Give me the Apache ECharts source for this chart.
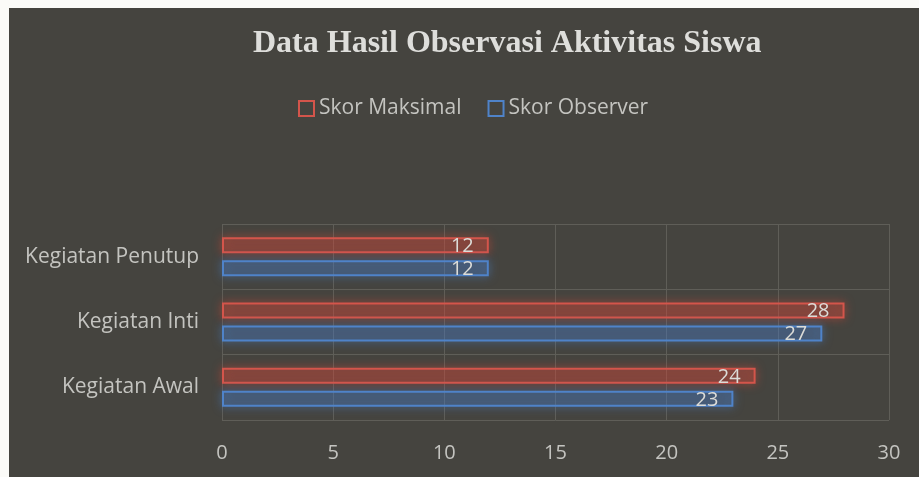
<!DOCTYPE html>
<html>
<head>
<meta charset="utf-8">
<script src="https://cdn.jsdelivr.net/npm/echarts@6/dist/echarts.min.js"></script>
<style>
  html, body { margin: 0; padding: 0; background: #fbfbf8; }
  #box { position: absolute; left: 9px; top: 8px; width: 910px; height: 469px; background: #45443f; }
  #chart { width: 910px; height: 469px; }
</style>
</head>
<body>
<div id="box"><div id="chart"></div></div>
<script>
// data
let categories = ["Kegiatan Awal", "Kegiatan Inti", "Kegiatan Penutup"];
let skorMaksimal = [24, 28, 12];
let skorObserver = [23, 27, 12];
let xTicks = [0, 5, 10, 15, 20, 25, 30];

let barChart = echarts.init(document.getElementById("chart"));
let txtColor = "#c4c4c0";
let gridColor = "#5f5e58";

let barChartOption = {
  animation: false,
  title: {
    text: "Data Hasil Observasi Aktivitas Siswa",
    left: 239,
    top: 15,
    textStyle: {
      fontFamily: "Liberation Serif",
      fontWeight: "bold",
      fontSize: 32,
      color: "#dededb"
    }
  },
  legend: {
    left: 284,
    top: 85,
    itemWidth: 15,
    itemHeight: 15,
    itemGap: 26,
    icon: "rect",
    textStyle: {
      color: txtColor,
      fontFamily: "Open Sans",
      fontSize: 21
    },
    data: [{
        name: "Skor Maksimal",
        itemStyle: { color: "transparent", borderColor: "#d4554b", borderWidth: 2, shadowBlur: 0 }
      },
      {
        name: "Skor Observer",
        itemStyle: { color: "transparent", borderColor: "#4f83c9", borderWidth: 2, shadowBlur: 0 }
      }
    ]
  },
  grid: {
    left: 213,
    right: 30,
    top: 216,
    bottom: 57
  },
  xAxis: {
    type: "value",
    min: 0,
    max: 30,
    interval: 5,
    axisLine: { show: false },
    axisTick: { show: false },
    splitLine: { lineStyle: { color: gridColor, width: 1 } },
    axisLabel: {
      margin: 23,
      color: txtColor,
      fontFamily: "Open Sans",
      fontSize: 20,
      formatter: function (v) {
        return xTicks.indexOf(v) > -1 ? String(v) : "";
      }
    }
  },
  yAxis: {
    type: "category",
    data: categories,
    axisLine: { show: false },
    axisTick: { show: false },
    splitLine: { show: true, lineStyle: { color: gridColor, width: 1 } },
    axisLabel: {
      margin: 23,
      color: txtColor,
      fontFamily: "Open Sans",
      fontSize: 21
    }
  },
  series: [{
      name: "Skor Maksimal",
      type: "bar",
      barWidth: 16,
      barGap: "44%",
      data: skorMaksimal,
      itemStyle: {
        color: "rgba(200,70,60,0.25)",
        borderColor: "#d4554b",
        borderWidth: 2,
        shadowBlur: 10,
        shadowColor: "rgba(220,75,60,0.85)"
      },
      label: {
        show: true,
        position: "insideRight",
        distance: 15,
        offset: [0, 1],
        color: "#dcdcd8",
        fontFamily: "Open Sans",
        fontSize: 20
      }
    },
    {
      name: "Skor Observer",
      type: "bar",
      barWidth: 16,
      barGap: "44%",
      data: skorObserver,
      itemStyle: {
        color: "rgba(70,120,190,0.22)",
        borderColor: "#4f83c9",
        borderWidth: 2,
        shadowBlur: 10,
        shadowColor: "rgba(80,135,210,0.85)"
      },
      label: {
        show: true,
        position: "insideRight",
        distance: 15,
        offset: [0, 1],
        color: "#dcdcd8",
        fontFamily: "Open Sans",
        fontSize: 20
      }
    }
  ]
};

barChart.setOption(barChartOption, true);
</script>
</body>
</html>
